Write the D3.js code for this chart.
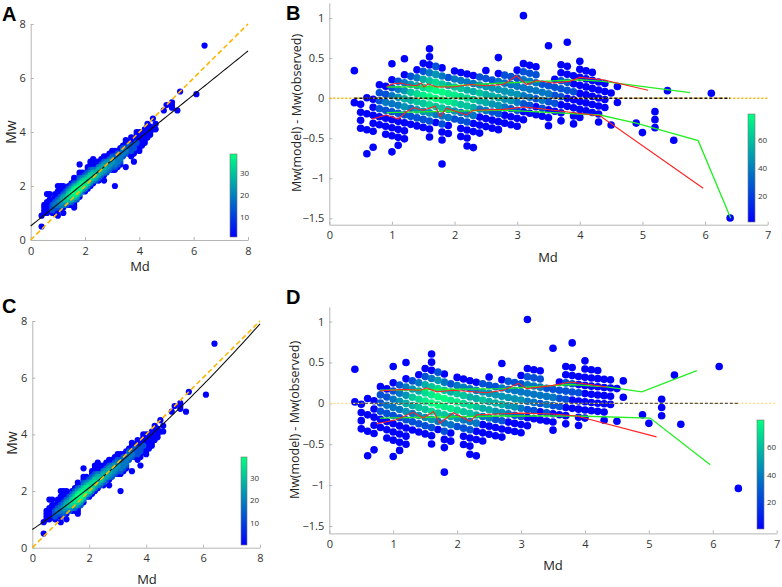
<!DOCTYPE html>
<html><head><meta charset="utf-8">
<script src="https://cdn.jsdelivr.net/npm/d3@7/dist/d3.min.js"></script>
<style>body{margin:0;background:#fff} svg{display:block} text{font-family:"Open Sans",sans-serif}</style>
</head><body><svg id="c" width="782" height="587"></svg>
<script>
// ---- DATA ----
// events grid: [Md in tenths, lowest Mw in tenths, density level per 0.1 Mw step from that Mw (0 = no event)]
const cloudColumns = [
  [4,5,"10001"],[5,10,"1111"],[6,10,"10101001"],[7,11,"1111101"],[8,10,"122211"],
  [9,11,"1232111"],[10,9,"101233211101"],[11,12,"234321111"],[12,10,"10134542111"],
  [13,13,"2465321"],[14,13,"13576421"],[15,13,"125786421"],[16,12,"111368974211"],
  [17,15,"24799631"],[18,16,"1369863211001"],[19,18,"25885311"],[20,18,"1368742"],
  [21,19,"136763211"],[22,20,"1357632111"],[23,21,"1356531101"],[24,22,"24653111"],
  [25,22,"12455311"],[26,24,"2454211"],[27,22,"1013454211"],[28,25,"2344311"],
  [29,26,"2344211"],[30,26,"12343211"],[31,20,"10000012333211"],[32,27,"1233321"],
  [33,28,"1233211"],[34,31,"23321"],[35,27,"10000232111"],[36,32,"12221"],
  [37,31,"11222111"],[38,29,"100112211"],[39,34,"1121111"],[40,33,"11111111"],
  [41,35,"111111"],[42,36,"111111"],[43,38,"111111"],[44,39,"1111"],[45,41,"10001"],
  [46,41,"101"],[49,48,"1"],[50,50,"1"],[52,49,"111"],[54,48,"1"],[55,55,"1"],
  [61,54,"1"],[64,72,"1"]
];
const fitLinear = [0.52, 0.81];            // panel A: Mw = a + b*Md
const fitQuad = [0.64, 0.682, 0.0282];     // panel C: Mw = a + b*Md + c*Md^2
const fitRange = [0, 8];

const redUpperB = [[0.915,0.146],[1.02,0.18],[1.13,0.19],[1.23,0.17],[1.39,0.155],[1.47,0.19],[1.51,0.14],[1.58,0.18],[1.71,0.14],[1.98,0.14],[2.25,0.17],[2.51,0.155],[2.78,0.17],[2.99,0.28],[3.15,0.17],[3.31,0.22],[3.58,0.19],[3.84,0.21],[4.0,0.26],[4.37,0.23],[5.09,0.10]];
const greenUpperB = [[0.915,0.14],[1.71,0.145],[2.78,0.19],[4.0,0.23],[4.37,0.21],[5.76,0.07]];
const redLowerB = [[0.68,-0.26],[0.915,-0.21],[1.1,-0.26],[1.23,-0.17],[1.34,-0.12],[1.5,-0.15],[1.69,-0.1],[1.77,-0.23],[1.87,-0.125],[2.19,-0.21],[2.3,-0.15],[2.78,-0.14],[3.1,-0.11],[3.31,-0.125],[3.58,-0.15],[4.32,-0.22],[5.97,-1.125]];
const greenLowerB = [[0.915,-0.18],[2.78,-0.15],[4.32,-0.21],[4.9,-0.31],[5.89,-0.53],[6.41,-1.5]];

const redUpperD = [[0.79,0.15],[1.16,0.17],[1.42,0.16],[1.52,0.19],[1.68,0.14],[1.94,0.16],[2.46,0.13],[2.72,0.16],[2.96,0.245],[3.09,0.18],[3.5,0.22],[3.77,0.26],[4.08,0.23],[4.34,0.2]];
const greenUpperD = [[0.79,0.16],[2.72,0.18],[3.77,0.23],[4.34,0.2],[4.89,0.14],[5.75,0.4]];
const redLowerD = [[0.74,-0.25],[1.05,-0.2],[1.31,-0.11],[1.47,-0.18],[1.63,-0.1],[1.73,-0.245],[1.94,-0.115],[2.2,-0.22],[2.31,-0.14],[2.98,-0.12],[3.5,-0.13],[3.87,-0.155],[5.12,-0.41]];
const greenLowerD = [[0.79,-0.18],[2.72,-0.155],[3.87,-0.155],[5.02,-0.18],[5.96,-0.75]];

const zeroLineRange = [0.4, 6.4];
const ticksMag = [0,2,4,6,8];
const ticksMdRes = [0,1,2,3,4,5,6,7];
const ticksRes = [-1.5,-1,-0.5,0,0.5,1];
const colorbarTicksMag = [10,20,30];
const colorbarTicksRes = [20,40,60];
const colorbarDomainMag = [0.5, 39];
const colorbarDomainRes = [1, 79];

// ---- BUILD ----
const svg = d3.select("#c");
const winter = d3.interpolateRgb("#0000ff", "#00ff80");
const lin = x => fitLinear[0] + fitLinear[1]*x;
const quad = x => fitQuad[0] + fitQuad[1]*x + fitQuad[2]*x*x;

const events = [];
cloudColumns.forEach(([md, lo, s]) => {
  for (let i = 0; i < s.length; i++) {
    const c = +s[i];
    if (c > 0) events.push({md: md/10, mw: (lo + i)/10, c});
  }
});
events.sort((a,b) => a.c - b.c);
const colorOf = d => winter(Math.pow((d.c - 1)/8, 0.55));

const defs = svg.append("defs");
const grad = defs.append("linearGradient").attr("id","wg").attr("x1",0).attr("y1",1).attr("x2",0).attr("y2",0);
grad.append("stop").attr("offset","0%").attr("stop-color","#0000ff");
grad.append("stop").attr("offset","100%").attr("stop-color","#00ff80");

function axes(g, x, y, xt, yt, xfmt, yfmt) {
  const ax = g.append("g").attr("transform",`translate(0,${y.range()[0]})`)
    .call(d3.axisBottom(x).tickValues(xt).tickSizeInner(-3).tickSizeOuter(0).tickPadding(7).tickFormat(xfmt));
  const ay = g.append("g").attr("transform",`translate(${x.range()[0]},0)`)
    .call(d3.axisLeft(y).tickValues(yt).tickSizeInner(-3).tickSizeOuter(0).tickPadding(5).tickFormat(yfmt));
  [ax, ay].forEach(a => {
    a.select(".domain").attr("stroke","#b5b5b5");
    a.selectAll(".tick line").attr("stroke","#b5b5b5");
    a.selectAll(".tick text").attr("fill","#333").style("font-size","11px").style("font-family","Open Sans");
  });
}

function colorbar(g, x0, yTop, yBot, w, domain, ticks) {
  const s = d3.scaleLinear().domain(domain).range([yBot, yTop]);
  g.append("rect").attr("x",x0).attr("y",yTop).attr("width",w).attr("height",yBot-yTop)
    .attr("fill","url(#wg)").attr("stroke","#777").attr("stroke-width",0.6);
  g.selectAll(null).data(ticks).enter().append("text")
    .attr("x", x0 + w + 3).attr("y", d => s(d) + 3)
    .attr("fill","#333").style("font-size","8px").text(d => d);
}

function magPanel(cfg) {
  const g = svg.append("g");
  const x = d3.scaleLinear().domain([0,8]).range(cfg.xr);
  const y = d3.scaleLinear().domain([0,8]).range(cfg.yr);
  axes(g, x, y, ticksMag, ticksMag, d3.format("d"), d3.format("d"));
  g.append("g").selectAll("circle").data(events).enter().append("circle")
    .attr("cx", d => x(d.md)).attr("cy", d => y(d.mw)).attr("r", 3.1)
    .attr("fill", colorOf);
  const xs = d3.range(fitRange[0], fitRange[1] + 0.001, 0.1);
  g.append("path").datum(xs).attr("fill","none").attr("stroke","#111").attr("stroke-width",1.1)
    .attr("d", d3.line().x(v => x(v)).y(v => y(cfg.fit(v))));
  g.append("path").datum(fitRange).attr("fill","none").attr("stroke","#ffb400").attr("stroke-width",1.6)
    .attr("stroke-dasharray","5,3").attr("d", d3.line().x(v => x(v)).y(v => y(v)));
  colorbar(g, cfg.cb[0], cfg.cb[1], cfg.cb[2], cfg.cb[3], colorbarDomainMag, colorbarTicksMag);
  g.append("text").attr("transform",`translate(${cfg.ylab[0]},${cfg.ylab[1]}) rotate(-90)`)
    .attr("text-anchor","middle").attr("fill","#222").style("font-size","14px").text("Mw");
  g.append("text").attr("x",cfg.xlab[0]).attr("y",cfg.xlab[1]).attr("text-anchor","middle")
    .attr("fill","#222").style("font-size","13px").text("Md");
  g.append("text").attr("x",cfg.letter[0]).attr("y",cfg.letter[1]).attr("fill","#000")
    .style("font-size","20px").style("font-weight","bold").style("font-family","Liberation Sans").text(cfg.name);
}

function resPanel(cfg) {
  const g = svg.append("g");
  const x = d3.scaleLinear().domain([0,7]).range(cfg.xr);
  const y = d3.scaleLinear().domain(cfg.yd).range(cfg.yr);
  axes(g, x, y, ticksMdRes, ticksRes, d3.format("d"), d => d3.format("")(d));
  g.append("g").selectAll("circle").data(events).enter().append("circle")
    .attr("cx", d => x(d.md)).attr("cy", d => y(cfg.fit(d.md) - d.mw)).attr("r", 3.8)
    .attr("fill", colorOf);
  g.append("line").attr("x1",x(0)).attr("x2",x(7)).attr("y1",y(0)).attr("y2",y(0))
    .attr("stroke",cfg.zeroCol).attr("stroke-width",1.4).attr("stroke-dasharray","2,2");
  g.append("line").attr("x1",x(zeroLineRange[0])).attr("x2",x(zeroLineRange[1])).attr("y1",y(0)).attr("y2",y(0))
    .attr("stroke",cfg.blackCol).attr("stroke-width",1.4).attr("stroke-dasharray","3,2");
  const ln = d3.line().x(p => x(p[0])).y(p => y(p[1]));
  cfg.greens.forEach(a => g.append("path").datum(a).attr("fill","none").attr("stroke","#22ee22").attr("stroke-width",1.3).attr("d", ln));
  cfg.reds.forEach(a => g.append("path").datum(a).attr("fill","none").attr("stroke","#ff2222").attr("stroke-width",1.1).attr("d", ln));
  colorbar(g, cfg.cb[0], cfg.cb[1], cfg.cb[2], cfg.cb[3], colorbarDomainRes, colorbarTicksRes);
  g.append("text").attr("transform",`translate(${cfg.ylab[0]},${cfg.ylab[1]}) rotate(-90)`)
    .attr("text-anchor","middle").attr("fill","#222").style("font-size","12.5px").text("Mw(model) - Mw(observed)");
  g.append("text").attr("x",cfg.xlab[0]).attr("y",cfg.xlab[1]).attr("text-anchor","middle")
    .attr("fill","#222").style("font-size","13px").text("Md");
  g.append("text").attr("x",cfg.letter[0]).attr("y",cfg.letter[1]).attr("fill","#000")
    .style("font-size","20px").style("font-weight","bold").style("font-family","Liberation Sans").text(cfg.name);
}

magPanel({name:"A", xr:[30.7,248], yr:[240,24], fit:lin, cb:[230,154,237,7],
  ylab:[16,132], xlab:[140,271], letter:[2,21]});
magPanel({name:"C", xr:[32.3,260], yr:[547.7,321], fit:quad, cb:[241,457,545,6],
  ylab:[17,443], xlab:[147,584], letter:[2,313]});
resPanel({name:"B", xr:[329.3,767.7], yd:[-1.58,1.19], yr:[224.7,2.9], fit:lin,
  greens:[greenUpperB, greenLowerB], reds:[redUpperB, redLowerB],
  zeroCol:"#ffb400", blackCol:"#111", cb:[748,114,222,7],
  ylab:[301,113], xlab:[548,262], letter:[286,20]});
resPanel({name:"D", xr:[329.3,776.7], yd:[-1.59,1.18], yr:[533.4,306.8], fit:quad,
  greens:[greenUpperD, greenLowerD], reds:[redUpperD, redLowerD],
  zeroCol:"#ffdc80", blackCol:"#555", cb:[757,420,529,7],
  ylab:[299,420], xlab:[553,570], letter:[286,304]});
</script></body></html>
